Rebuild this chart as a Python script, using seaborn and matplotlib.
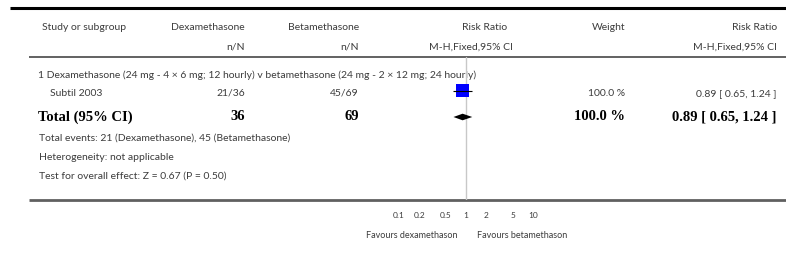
import matplotlib
matplotlib.use('Agg')
import matplotlib.pyplot as plt
import seaborn as sns

# data
studies = ['Subtil 2003']
dex_events = [21]
dex_total = [36]
beta_events = [45]
beta_total = [69]
risk_ratio = [0.89]
ci_low = [0.65]
ci_high = [1.24]
weights = [100.0]

total_rr = 0.89
total_low = 0.65
total_high = 1.24
z_value = 0.67
p_value = 0.50

subgroup_title = '1 Dexamethasone (24 mg - 4 \u00d7 6 mg; 12 hourly) v betamethasone (24 mg - 2 \u00d7 12 mg; 24 hourly)'
tick_values = [0.1, 0.2, 0.5, 1, 2, 5, 10]
tick_labels = ['0.1', '0.2', '0.5', '1', '2', '5', '10']

W, H = 786, 272
sns.set_theme(style='white')
plt.rcParams['font.family'] = ['Lato', 'DejaVu Sans']

TXT = '#3c3c3c'
SERIF = ['Liberation Serif', 'DejaVu Serif']
fs = 7.5
fs_bold = 10.5

fig = plt.figure(figsize=(W / 100, H / 100), dpi=100)
ax = fig.add_axes([0, 0, 1, 1])
ax.set_xlim(0, W)
ax.set_ylim(H, 0)
ax.axis('off')

# rules
ax.plot([10, W], [8, 8], color='black', lw=2.2, solid_capstyle='butt')
ax.plot([29, W], [57, 57], color='#555555', lw=1.3, solid_capstyle='butt')
ax.plot([29, W], [200, 200], color='#606060', lw=2.0, solid_capstyle='butt')

# header
def t(x, y, s, ha='left', **kw):
    kw.setdefault('fontsize', fs)
    kw.setdefault('color', TXT)
    ax.text(x, y, s, ha=ha, va='center', **kw)

t(42, 28, 'Study or subgroup')
t(245, 28, 'Dexamethasone', ha='right')
t(245, 47, 'n/N', ha='right')
t(359, 28, 'Betamethasone', ha='right')
t(359, 47, 'n/N', ha='right')
t(507, 28, 'Risk Ratio', ha='right')
t(513, 47, 'M-H,Fixed,95% CI', ha='right')
t(625, 28, 'Weight', ha='right')
t(777, 28, 'Risk Ratio', ha='right')
t(777, 47, 'M-H,Fixed,95% CI', ha='right')

# subgroup and study rows
t(38, 75, subgroup_title)
row_y = [90.5]
for i, name in enumerate(studies):
    y = row_y[i] + 3
    t(50, y, name)
    t(245, y, f'{dex_events[i]}/{dex_total[i]}', ha='right')
    t(359, y, f'{beta_events[i]}/{beta_total[i]}', ha='right')
    t(625, y, f'{weights[i]:.1f} %', ha='right')
    t(777, y, f'{risk_ratio[i]:.2f} [ {ci_low[i]:.2f}, {ci_high[i]:.2f} ]', ha='right')

# total row
ty = 117
tb = dict(fontsize=fs_bold, color='black', fontweight='bold', family=SERIF)
t(38, ty, 'Total (95% CI)', **tb)
t(245, ty, f'{sum(dex_total)}', ha='right', **tb)
t(359, ty, f'{sum(beta_total)}', ha='right', **tb)
t(625, ty, f'{sum(weights):.1f} %', ha='right', **tb)
t(777, ty, f'{total_rr:.2f} [ {total_low:.2f}, {total_high:.2f} ]', ha='right', **tb)

t(39, 138, f'Total events: {sum(dex_events)} (Dexamethasone), {sum(beta_events)} (Betamethasone)')
t(39, 157, 'Heterogeneity: not applicable')
t(39, 176, f'Test for overall effect: Z = {z_value:.2f} (P = {p_value:.2f})')

# forest panel: log scale, 1 at x=466 px, 67 px per decade
x0, x1 = 466 - 134, 466 + 134
y_top, y_bot = 57, 200
axf = fig.add_axes([x0 / W, (H - y_bot) / H, (x1 - x0) / W, (y_bot - y_top) / H])
axf.set_xscale('log')
axf.set_xlim(0.01, 100)
axf.set_ylim(y_bot, y_top)
axf.patch.set_alpha(0)
for sp in axf.spines.values():
    sp.set_visible(False)
axf.axvline(1, color='#c8c8c8', lw=1.0, zorder=1)

sns.scatterplot(x=risk_ratio, y=row_y, marker='s', s=90, color='#0000ff',
                edgecolor='none', ax=axf, zorder=2, legend=False)
axf.hlines(row_y, ci_low, ci_high, color='black', lw=0.8, zorder=3)

dy = 117
axf.fill([total_low, total_rr, total_high, total_rr], [dy, dy - 3.3, dy, dy + 3.3],
         color='black', lw=0, zorder=3)

axf.set_yticks([])
axf.set_xticks(tick_values)
axf.set_xticklabels(tick_labels)
axf.minorticks_off()
axf.tick_params(axis='x', length=0, pad=9, labelsize=6, labelcolor=TXT)
axf.set_xlabel('')
axf.set_ylabel('')

t(457, 236, 'Favours dexamethason', ha='right', fontsize=6.5)
t(477, 236, 'Favours betamethason', ha='left', fontsize=6.5)

fig.savefig('out.png', dpi=100)
